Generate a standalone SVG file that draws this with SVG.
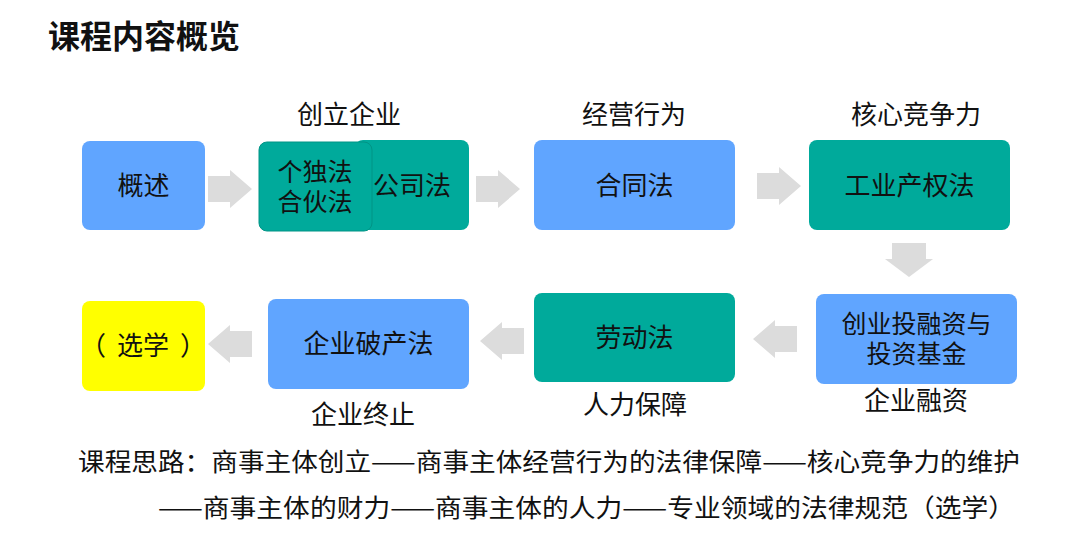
<svg xmlns="http://www.w3.org/2000/svg" width="1080" height="552" viewBox="0 0 1080 552">
<defs>
<style>
text{font-family:"Noto Sans CJK SC","Noto Sans",sans-serif;fill:#111;}
.t{font-size:26px;text-anchor:middle;}
.t2{font-size:25px;text-anchor:middle;}
.lbl{font-size:26px;text-anchor:middle;}
.blue{fill:#60a5ff;}
.teal{fill:#00aa9b;}
.yel{fill:#ffff00;}
.arr{fill:#dcdcdc;}
</style>
<path id="ar" d="M0,-13 H22 V-19 L44,0 L22,19 V13 H0 Z"/>
<path id="al" d="M44,-13 H22 V-19 L0,0 L22,19 V13 H44 Z"/>
</defs>
<rect width="1080" height="552" fill="#fff"/>
<text x="48" y="48" style="font-size:32px;font-weight:bold;">课程内容概览</text>

<g id="labels">
<text class="lbl" x="349" y="124">创立企业</text>
<text class="lbl" x="634" y="124">经营行为</text>
<text class="lbl" x="916" y="124">核心竞争力</text>
<text class="lbl" x="916" y="410">企业融资</text>
<text class="lbl" x="635" y="414">人力保障</text>
<text class="lbl" x="363" y="424">企业终止</text>
</g>

<g id="connectors" class="arr">
<use href="#ar" x="208" y="189"/>
<use href="#ar" x="476" y="189"/>
<use href="#ar" x="757" y="186"/>
<path d="M892,243 V259 H885 L909,277 L933,259 H926 V243 Z"/>
<use href="#al" x="753" y="339"/>
<use href="#al" x="480" y="341"/>
<use href="#al" x="208" y="344"/>
</g>

<g id="n-gaishu"><rect class="blue" x="82" y="141" width="123" height="89" rx="8"/><text class="t" x="143.5" y="195">概述</text></g>
<g id="n-gongsi"><rect class="teal" x="355" y="140" width="114" height="90" rx="8"/><text class="t" x="412" y="195">公司法</text></g>
<g id="n-geduhehuo"><rect class="teal" x="259" y="142" width="113" height="89" rx="8" stroke="#019486" stroke-width="1"/><text class="t2" x="315" y="181">个独法</text><text class="t2" x="315" y="211">合伙法</text></g>
<g id="n-hetong"><rect class="blue" x="534" y="140" width="201" height="90" rx="8"/><text class="t" x="634.5" y="195">合同法</text></g>
<g id="n-gongye"><rect class="teal" x="809" y="140" width="201" height="90" rx="8"/><text class="t" x="909.5" y="195">工业产权法</text></g>
<g id="n-rongzi"><rect class="blue" x="816" y="294" width="201" height="90" rx="8"/><text class="t2" x="916.5" y="333">创业投融资与</text><text class="t2" x="916.5" y="363">投资基金</text></g>
<g id="n-laodong"><rect class="teal" x="534" y="293" width="201" height="89" rx="8"/><text class="t" x="634.5" y="347">劳动法</text></g>
<g id="n-pochan"><rect class="blue" x="268" y="299" width="201" height="90" rx="8"/><text class="t" x="368.5" y="353">企业破产法</text></g>
<g id="n-xuanxue"><rect class="yel" x="82" y="301" width="123" height="90" rx="8"/><text style="font-size:26px;" y="355"><tspan x="80">（</tspan><tspan x="117">选学</tspan><tspan x="180">）</tspan></text></g>

<g id="footer">
<text x="78" y="471" style="font-size:25px;" textLength="942" lengthAdjust="spacingAndGlyphs">课程思路：商事主体创立——商事主体经营行为的法律保障——核心竞争力的维护</text>
<text x="158" y="517" style="font-size:25px;" textLength="857" lengthAdjust="spacingAndGlyphs">——商事主体的财力——商事主体的人力——专业领域的法律规范（选学）</text>
</g>
</svg>
